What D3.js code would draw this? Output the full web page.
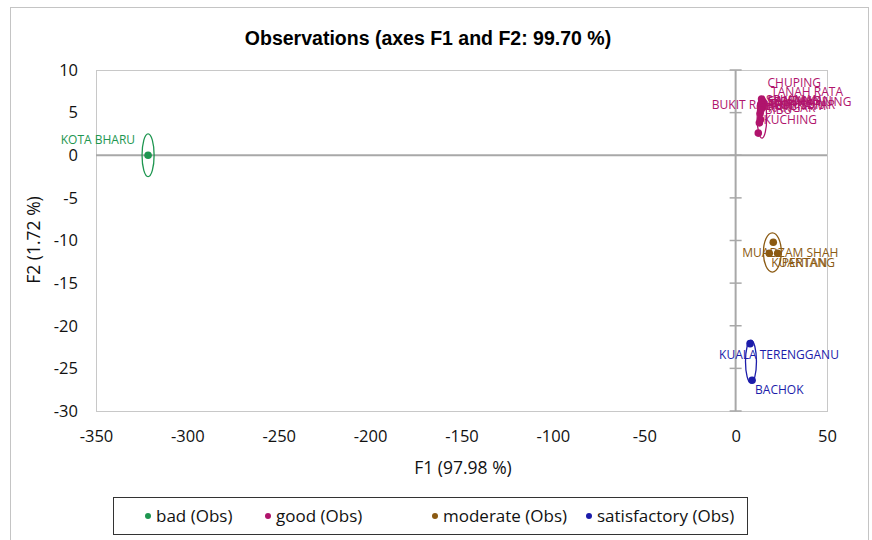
<!DOCTYPE html>
<html>
<head>
<meta charset="utf-8">
<script src="https://cdn.jsdelivr.net/npm/d3@7"></script>
<style>
  body { margin: 0; background: #fff; }
  svg text { font-family: "Open Sans", "DejaVu Sans", sans-serif; }
</style>
</head>
<body>
<div id="chart"></div>
<script>
/* CONSTANTS AND GLOBALS */
const width = 872;
const height = 540;
const margin = { top: 70, right: 45, bottom: 129, left: 96 };

// DATA
const groups = ["bad", "good", "moderate", "satisfactory"];
const groupColors = ["#1e9650", "#b0146c", "#8b5a12", "#1c1caa"];

const stations = ["KOTA BHARU",
  "CHUPING", "TANAH RATA", "BUKIT RAMBAI", "SERI MANJUNG", "TAIPING", "LANGKAWI",
  "ALOR SETAR", "KANGAR", "SRI AMAN", "SIBU", "KUCHING", "LIMBANG", "SANDAKAN",
  "MUADZAM SHAH", "KUANTAN", "PERTANG",
  "KUALA TERENGGANU", "BACHOK"];
const stationGroup = ["bad",
  "good", "good", "good", "good", "good", "good",
  "good", "good", "good", "good", "good", "good", "good",
  "moderate", "moderate", "moderate",
  "satisfactory", "satisfactory"];
const f1 = [-321.5,
  14.2, 15.0, 13.8, 14.5, 15.4, 13.6,
  14.2, 14.8, 13.4, 13.8, 13.6, 13.0, 12.4,
  18.4, 20.6, 23.0,
  7.9, 9.0];
const f2 = [0,
  6.6, 6.3, 6.0, 6.2, 6.0, 5.8,
  5.9, 5.6, 4.9, 5.3, 4.2, 3.8, 2.6,
  -11.5, -10.2, -11.5,
  -22.1, -26.4];

// confidence ellipses (centre and half-axes, in axis units)
const ellCx = [-321.5, 14.4, 20.1, 8.4];
const ellCy = [0, 4.4, -11.4, -24.2];
const ellRx = [3.3, 2.6, 4.9, 3.0];
const ellRy = [2.5, 2.4, 2.3, 2.5];

const xTicks = [-350, -300, -250, -200, -150, -100, -50, 0, 50];
const yTicks = [10, 5, 0, -5, -10, -15, -20, -25, -30];

// label offsets from each point: [dx, dy, anchor]; the rest sit to the right
const labelPos = {
  "KOTA BHARU": [-13, -11, "end"],
  "CHUPING": [6, -12, "start"],
  "TANAH RATA": [8, -6, "start"],
  "BUKIT RAMBAI": [-49, 5, "start"],
  "SRI AMAN": [6, -9, "start"],
  "KUCHING": [3, 5, "start"],
  "LIMBANG": [8, -18, "start"],
  "SANDAKAN": [10, -28, "start"],
  "MUADZAM SHAH": [-27, 4, "start"],
  "KUANTAN": [-2, 25, "start"],
  "PERTANG": [4, 14, "start"],
  "KUALA TERENGGANU": [-31, 15, "start"],
  "BACHOK": [3, 14, "start"]
};

const color = d3.scaleOrdinal().domain(groups).range(groupColors);

const xScale = d3.scaleLinear()
  .domain([-350, 50])
  .range([margin.left, width - margin.right]);

const yScale = d3.scaleLinear()
  .domain([-30, 10])
  .range([height - margin.bottom, margin.top]);

const svg = d3.select("#chart")
  .append("svg")
  .attr("width", width)
  .attr("height", height);

// outer frame
svg.append("rect")
  .attr("x", 10.5).attr("y", 7.5)
  .attr("width", 858).attr("height", 545)
  .attr("fill", "none")
  .attr("stroke", "#c4c4c4");

// plot frame
svg.append("rect")
  .attr("x", margin.left + 0.5).attr("y", margin.top + 0.5)
  .attr("width", width - margin.right - margin.left)
  .attr("height", height - margin.bottom - margin.top)
  .attr("fill", "none")
  .attr("stroke", "#c8c8c8");

//Title
svg.append("text")
  .attr("x", 428)
  .attr("y", 45)
  .attr("text-anchor", "middle")
  .style("font-family", "'Liberation Sans', Arial, sans-serif")
  .style("font-weight", "bold")
  .style("font-size", "19.5px")
  .text("Observations (axes F1 and F2: 99.70 %)");

//Axis (zero lines)
svg.append("line")
  .attr("x1", xScale(-350)).attr("x2", xScale(50))
  .attr("y1", yScale(0)).attr("y2", yScale(0))
  .attr("stroke", "#a8a8a8").attr("stroke-width", 2);

svg.append("line")
  .attr("x1", xScale(0)).attr("x2", xScale(0))
  .attr("y1", yScale(10)).attr("y2", yScale(-30))
  .attr("stroke", "#a8a8a8").attr("stroke-width", 2);

// tick marks on the vertical axis
svg.selectAll(".ytickmark")
  .data(yTicks)
  .join("line")
  .attr("class", "ytickmark")
  .attr("x1", xScale(0) - 6).attr("x2", xScale(0) + 6)
  .attr("y1", d => yScale(d)).attr("y2", d => yScale(d))
  .attr("stroke", "#a8a8a8").attr("stroke-width", 1.5);

// tick labels, drawn with d3 axes but without lines
const yAxis = d3.axisLeft(yScale).tickValues(yTicks).tickFormat(d => String(d)).tickSize(0).tickPadding(18);
svg.append("g")
  .attr("transform", `translate(${margin.left},0)`)
  .call(yAxis)
  .call(g => g.select(".domain").remove())
  .selectAll("text")
  .style("font-family", "'Open Sans', sans-serif")
  .style("font-size", "16.5px")
  .attr("fill", "#111");

const xAxis = d3.axisBottom(xScale).tickValues(xTicks).tickFormat(d => String(d)).tickSize(0).tickPadding(19);
svg.append("g")
  .attr("transform", `translate(0,${height - margin.bottom})`)
  .call(xAxis)
  .call(g => g.select(".domain").remove())
  .selectAll("text")
  .style("font-family", "'Open Sans', sans-serif")
  .style("font-size", "16.5px")
  .attr("fill", "#111");

// Y Label
svg.append("text")
  .attr("x", -240)
  .attr("y", 40)
  .attr("transform", "rotate(-90)")
  .attr("text-anchor", "middle")
  .style("font-size", "17.5px")
  .attr("fill", "#111")
  .text("F2 (1.72 %)");

// X Label
svg.append("text")
  .attr("x", 463)
  .attr("y", 474)
  .attr("text-anchor", "middle")
  .style("font-size", "17.5px")
  .attr("fill", "#111")
  .text("F1 (97.98 %)");

// ellipses
svg.selectAll(".ell")
  .data(groups)
  .join("ellipse")
  .attr("class", "ell")
  .attr("cx", (d, i) => xScale(ellCx[i]))
  .attr("cy", (d, i) => yScale(ellCy[i]))
  .attr("rx", (d, i) => xScale(ellRx[i]) - xScale(0))
  .attr("ry", (d, i) => yScale(0) - yScale(ellRy[i]))
  .attr("fill", "none")
  .attr("stroke", d => color(d))
  .attr("stroke-width", 1.3);

const points = stations.map((s, i) => ({ name: s, group: stationGroup[i], x: f1[i], y: f2[i] }));

// points
svg.selectAll(".dot")
  .data(points)
  .join("circle")
  .attr("class", "dot")
  .attr("cx", d => xScale(d.x))
  .attr("cy", d => yScale(d.y))
  .attr("r", 3.8)
  .attr("fill", d => color(d.group));

// point labels
const off = d => labelPos[d.name] || [5, 4, "start"];

svg.selectAll(".plabel")
  .data(points)
  .join("text")
  .attr("class", "plabel")
  .attr("x", d => xScale(d.x) + off(d)[0])
  .attr("y", d => yScale(d.y) + off(d)[1])
  .attr("text-anchor", d => off(d)[2])
  .style("font-size", "12px")
  .attr("fill", d => color(d.group))
  .text(d => d.name);

// Legend
svg.append("rect")
  .attr("x", 113.5).attr("y", 497.5)
  .attr("width", 634).attr("height", 37)
  .attr("fill", "#fff")
  .attr("stroke", "#333");

const legendX = [148, 268, 435, 589];
const legend = svg.selectAll(".legend")
  .data(groups)
  .join("g")
  .attr("class", "legend")
  .attr("transform", (d, i) => `translate(${legendX[i]},516)`);

legend.append("circle")
  .attr("r", 3)
  .attr("fill", d => color(d));

legend.append("text")
  .attr("x", 8)
  .attr("y", 6)
  .style("font-size", "17px")
  .attr("fill", "#111")
  .text(d => `${d} (Obs)`);
</script>
</body>
</html>
